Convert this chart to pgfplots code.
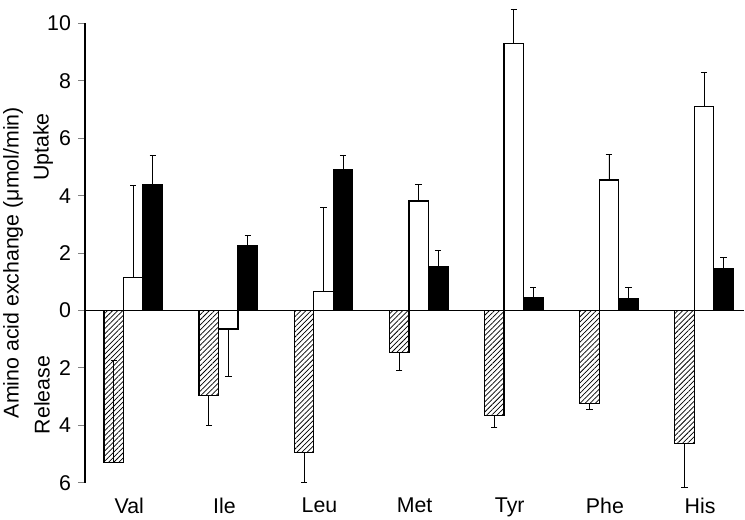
\documentclass[border=0pt]{standalone}
\usepackage{fontspec}
\setmainfont{Liberation Sans}
\usepackage{pgfplots}
\pgfplotsset{compat=1.18}
\usetikzlibrary{patterns.meta}

\begin{document}
\fontsize{16}{19}\selectfont
\begin{tikzpicture}
\begin{axis}[
  at={(63.75pt,27.98pt)}, anchor=south west,
  scale only axis,
  width=494.25pt, height=344.4pt,
  xmin=-0.507, xmax=6.42,
  ymin=-6, ymax=10,
  clip=false,
  axis y line*=left,
  axis x line*=bottom,
  x axis line style={draw=none},
  y axis line style={line width=1.2pt, -},
  xtick={0,...,6},
  xticklabels={Val,Ile,Leu,Met,Tyr,Phe,His},
  xtick style={draw=none},
  xticklabel style={yshift=-1pt, xshift=-3pt},
  ytick={-6,-4,...,10},
  yticklabel={\pgfmathparse{abs(\tick)}\pgfmathprintnumber{\pgfmathresult}},
  ytick style={line width=0.8pt},
  tick align=outside,
  major tick length=5pt,
  /pgf/number format/assume math mode=true,
  ybar,
  bar width=0.205,
  error bars/y dir=both,
  error bars/y explicit,
  error bars/error bar style={line width=0.6pt, black},
  error bars/error mark options={rotate=90, line width=0.6pt, mark size=2.4pt, black},
]
\draw[line width=1pt] (axis cs:-0.507,0) -- (axis cs:6.42,0);

% release (hatched)
\addplot[draw=black, line width=1pt,
  pattern={Lines[angle=45, distance=2.7pt, line width=0.55pt]}, bar shift=-0.205,
  error bars/error bar style={line width=0.6pt, black, preaction={draw=white, line width=2.6pt}}]
  coordinates {
  (0,-5.30) += (0,3.55) -= (0,0)
  (1,-2.97) += (0,0) -= (0,1.05)
  (2,-4.94) += (0,0) -= (0,1.06)
  (3,-1.46) += (0,0) -= (0,0.63)
  (4,-3.65) += (0,0) -= (0,0.43)
  (5,-3.25) += (0,0) -= (0,0.19)
  (6,-4.63) += (0,0) -= (0,1.52)
  };

% open bars
\addplot[draw=black, line width=1pt, fill=white, bar shift=0]
  coordinates {
  (0,1.15) += (0,3.20) -= (0,0)
  (1,-0.65) += (0,0) -= (0,1.65)
  (2,0.67) += (0,2.93) -= (0,0)
  (3,3.82) += (0,0.58) -= (0,0)
  (4,9.30) += (0,1.19) -= (0,0)
  (5,4.55) += (0,0.89) -= (0,0)
  (6,7.11) += (0,1.18) -= (0,0)
  };

% solid bars
\addplot[draw=black, line width=1pt, fill=black, bar shift=0.205]
  coordinates {
  (0,4.40) += (0,1.00) -= (0,0)
  (1,2.27) += (0,0.35) -= (0,0)
  (2,4.92) += (0,0.50) -= (0,0)
  (3,1.52) += (0,0.57) -= (0,0)
  (4,0.46) += (0,0.36) -= (0,0)
  (5,0.42) += (0,0.40) -= (0,0)
  (6,1.46) += (0,0.40) -= (0,0)
  };
\end{axis}

\node[rotate=90] at (9.75pt,193pt) {Amino acid exchange (μmol/min)};
\node[rotate=90] at (32.25pt,279.75pt) {Uptake};
\node[rotate=90] at (31.5pt,93.75pt) {Release};

\pgfresetboundingbox
\path[use as bounding box] (0,0) rectangle (558.75pt,390pt);
\end{tikzpicture}
\end{document}
